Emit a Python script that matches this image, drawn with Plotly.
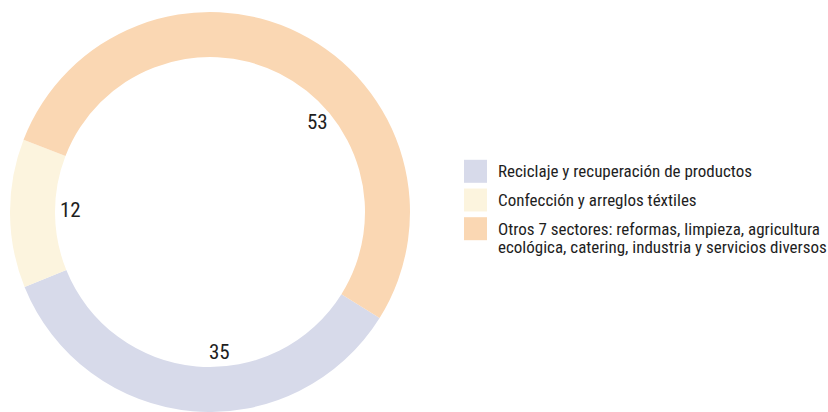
import math
import plotly.graph_objects as go

# ---- data ----
categories = [
    "Reciclaje y recuperación de productos",
    "Confección y arreglos téxtiles",
    "Otros 7 sectores: reformas, limpieza, agricultura<br>ecológica, catering, industria y servicios diversos",
]
values = [35, 12, 53]

# ---- style ----
W, H = 828, 412
colors = ["#D7DAEA", "#FCF4DE", "#FAD7B3"]
FONT = "'Roboto Condensed', 'DejaVu Sans Condensed', sans-serif"
TEXT_COLOR = "#1e1e1e"
ROTATION = 122          # start angle of the first slice (deg, clockwise from 12 o'clock)
HOLE = 0.775
PIE_X = [10 / W, 410 / W]
PIE_Y = [0, 400 / H]
LABEL_R = 140           # px from centre
LABEL_ANGLES = [176, 271, 50]
LEG_LEFT, SQ, ROW, FIRST_ROW_Y, GAP, LINE = 464, 23, 28.7, 171.3, 9, 18.5

fig = go.Figure()
fig.add_trace(go.Pie(
    labels=[c.replace("<br>", " ") for c in categories], values=values,
    marker=dict(colors=colors, line=dict(width=0)),
    hole=HOLE, sort=False, direction="clockwise", rotation=ROTATION,
    textinfo="none", domain=dict(x=PIE_X, y=PIE_Y), showlegend=False,
))

# value labels inside the hole
cx = (PIE_X[0] + PIE_X[1]) / 2 * W
cy = H - (PIE_Y[0] + PIE_Y[1]) / 2 * H
for v, a in zip(values, LABEL_ANGLES):
    r = math.radians(a)
    px = cx + LABEL_R * math.sin(r)
    py = cy - LABEL_R * math.cos(r)
    fig.add_annotation(x=px / W, y=1 - py / H, xref="paper", yref="paper",
                       xanchor="center", yanchor="middle",
                       text=str(v), showarrow=False,
                       font=dict(family=FONT, size=21, color=TEXT_COLOR))

# legend drawn as square markers + text
idx = list(range(len(categories)))
fig.add_trace(go.Scatter(
    x=[0] * len(categories), y=idx, mode="markers",
    marker=dict(symbol="square", size=SQ, color=colors, line=dict(width=0)),
    showlegend=False, hoverinfo="text", hovertext=categories,
))
for i, c in enumerate(categories):
    for k, line in enumerate(c.split("<br>")):
        fig.add_annotation(x=0.5 + GAP / SQ, y=i, xref="x", yref="y",
                           text=line, showarrow=False, xanchor="left", yanchor="middle",
                           yshift=-k * LINE,
                           font=dict(family=FONT, size=17, color=TEXT_COLOR))

fig.update_xaxes(domain=[LEG_LEFT / W, 1], range=[-0.5, (W - LEG_LEFT) / SQ - 0.5],
                 visible=False, fixedrange=True)
fig.update_yaxes(domain=[0, 1], range=[(H - FIRST_ROW_Y) / ROW, -FIRST_ROW_Y / ROW],
                 visible=False, fixedrange=True)

fig.update_layout(width=W, height=H, margin=dict(l=0, r=0, t=0, b=0),
                  paper_bgcolor="white", plot_bgcolor="rgba(0,0,0,0)",
                  font=dict(family=FONT, color=TEXT_COLOR))
fig.write_html("out.html", config={"displayModeBar": False})
